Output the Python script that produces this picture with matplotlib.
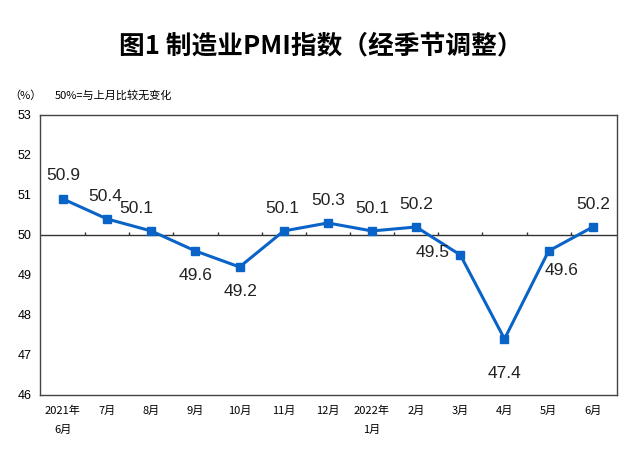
import matplotlib.pyplot as plt
import numpy as np

plt.rcParams['font.family'] = ['Noto Sans CJK SC', 'DejaVu Sans']

# data
months = ['2021年\n6月', '7月', '8月', '9月', '10月', '11月', '12月',
          '2022年\n1月', '2月', '3月', '4月', '5月', '6月']
pmi = [50.9, 50.4, 50.1, 49.6, 49.2, 50.1, 50.3, 50.1, 50.2, 49.5, 47.4, 49.6, 50.2]
# label offsets in points (dx, dy)
label_offsets = [(0, 17), (-1, 16), (-11, 16), (0, -18), (1, -18), (-1, 16), (0, 16),
                 (0, 16), (0, 16), (-20, 2), (0, -25), (9, -14), (0, 16)]

line_color = '#0a64c8'

fig = plt.figure(figsize=(6.3, 4.58), dpi=100)
ax = fig.add_axes([0.0635, 0.1376, 0.916, 0.6114])

x = np.arange(len(months))
ax.plot(x, pmi, color=line_color, lw=2.2, marker='s', ms=5.5, zorder=3)

for xi, v, (dx, dy) in zip(x, pmi, label_offsets):
    ax.annotate(f'{v:.1f}', (xi, v), xytext=(dx, dy), textcoords='offset points',
                ha='center', va='center', fontsize=12.5, family='Liberation Sans',
                color='#222222')

# 50 reference line with small ticks at category boundaries
ax.axhline(50, color='#333333', lw=1, zorder=2)
ax.vlines(x[:-1] + 0.5, 50, 50.07, color='#333333', lw=1, zorder=2)

ax.set_xlim(-0.52, len(months) - 0.45)
ax.set_ylim(46, 53)
ax.set_yticks(range(46, 54))
ax.set_xticks(x)
ax.set_xticklabels(months, fontsize=8, linespacing=2.1)
ax.tick_params(axis='both', length=0)
ax.tick_params(axis='x', pad=8)
ax.tick_params(axis='y', labelsize=9, pad=6)
for lbl in ax.get_yticklabels():
    lbl.set_family('Liberation Sans')
for s in ax.spines.values():
    s.set_color('#444444')
    s.set_linewidth(1)

fig.text(0.51, 0.9, '图1 制造业PMI指数（经季节调整）', ha='center', va='center',
         fontsize=18.5, fontweight='bold')
fig.text(0.015, 0.792, '（%）', ha='left', va='center', fontsize=8)
fig.text(0.087, 0.792, '50%=与上月比较无变化', ha='left', va='center', fontsize=8)

fig.savefig('out.png', dpi=100)
